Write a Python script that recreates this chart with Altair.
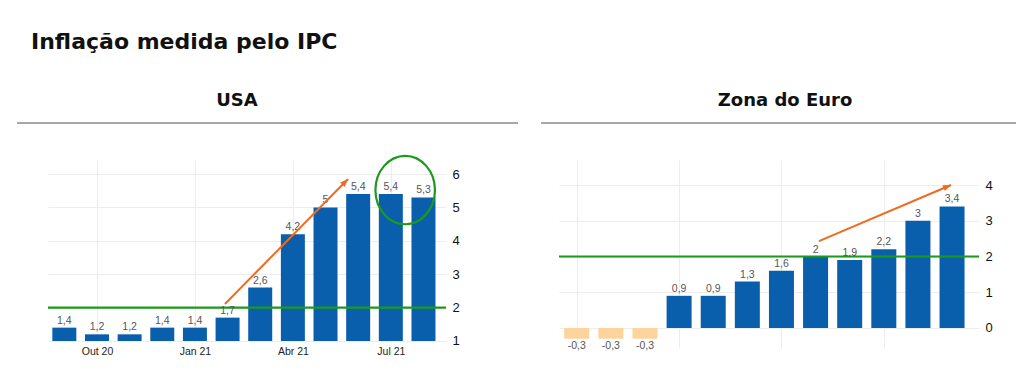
import altair as alt
import pandas as pd

TITLE = "Inflação medida pelo IPC"
USA_TITLE = "USA"
EUR_TITLE = "Zona do Euro"

USA_MONTHS = ["Set 20", "Out 20", "Nov 20", "Dez 20", "Jan 21", "Fev 21",
              "Mar 21", "Abr 21", "Mai 21", "Jun 21", "Jul 21", "Ago 21"]
USA_CPI = [1.4, 1.2, 1.2, 1.4, 1.4, 1.7, 2.6, 4.2, 5, 5.4, 5.4, 5.3]

EUR_MONTHS = ["Out 20", "Nov 20", "Dez 20", "Jan 21", "Fev 21", "Mar 21",
              "Abr 21", "Mai 21", "Jun 21", "Jul 21", "Ago 21", "Set 21"]
EUR_CPI = [-0.3, -0.3, -0.3, 0.9, 0.9, 1.3, 1.6, 2, 1.9, 2.2, 3, 3.4]

TARGET = 2
USA_TICKS = [2, 5, 8, 11]
EUR_TICKS = [1, 4, 7, 10]
USA_Y_TICKS = [1, 2, 3, 4, 5, 6]
EUR_Y_TICKS = [0, 1, 2, 3, 4]

# annotation arrows (month index, value)
USA_ARROW_I = [5.92, 9.69]
USA_ARROW_V = [2.11, 5.85]
EUR_ARROW_I = [8.10, 11.97]
EUR_ARROW_V = [2.43, 4.0]
USA_CIRCLE_I = [11.44]
USA_CIRCLE_V = [5.52]

BLUE = "#0a5fad"
PEACH = "#fdd49c"
GREEN = "#1c9a1c"
ORANGE = "#f06a20"
HEAD_FONT = "DejaVu Sans"
NUM_FONT = "Liberation Sans"

ARROW_HEAD = "M0,0L0.8,2L-0.8,2Z"
ELLIPSE = "M-0.87,0A0.87,1 0 1,1 0.87,0A0.87,1 0 1,1 -0.87,0Z"


def panel(months, values, ticks, yticks, ydom, xdom, width, height, bar_w,
          base, arrow_i, arrow_v, arrow_angle, head, head_x, rule_x,
          show_labels, circle=None, title_text=None):
    df = pd.DataFrame({"i": list(range(1, len(values) + 1)), "v": values, "m": months})
    arr = "[" + ",".join("'" + m + "'" for m in months) + "]"
    x_axis = alt.Axis(values=ticks, labelExpr=arr + "[datum.value-1]", grid=True,
                      gridColor="#ededed", domain=False, ticks=False,
                      labels=show_labels, labelFont=NUM_FONT, labelFontSize=10.5,
                      labelColor="#222", labelPadding=3, title=None)
    y_axis = alt.Axis(values=yticks, orient="right", grid=True, gridColor="#ededed",
                      domain=False, ticks=False, labelPadding=6, labelFont=NUM_FONT,
                      labelFontSize=13, labelColor="#111", format="d", title=None)
    xs = alt.Scale(domain=xdom, nice=False, zero=False, padding=0)
    ys = alt.Scale(domain=ydom, nice=False, zero=False, padding=0)
    X = alt.X("i:Q", scale=xs, axis=x_axis)
    Y = alt.Y("v:Q", scale=ys, axis=y_axis)

    base_chart = alt.Chart(df)
    bars = base_chart.mark_bar(width=bar_w).encode(
        x=X, y=Y, y2=alt.datum(base),
        color=alt.condition(alt.datum.v < 0, alt.value(PEACH), alt.value(BLUE)),
    )
    lbl = base_chart.transform_calculate(
        lbl="replace(toString(datum.v), '.', ',')")
    pos_txt = lbl.transform_filter(alt.datum.v >= 0).mark_text(
        dy=-4, baseline="alphabetic", font=NUM_FONT, fontSize=10.5, color="#555"
    ).encode(x=X, y=Y, text="lbl:N")
    neg_txt = lbl.transform_filter(alt.datum.v < 0).mark_text(
        dy=2, baseline="top", font=NUM_FONT, fontSize=10.5, color="#555"
    ).encode(x=X, y=Y, text="lbl:N")

    target = alt.Chart(pd.DataFrame({"t": [TARGET]})).mark_rule(
        color=GREEN, strokeWidth=2.2).encode(y=alt.Y("t:Q", scale=ys, axis=y_axis))

    adf = pd.DataFrame({"i": arrow_i, "v": arrow_v})
    arrow = alt.Chart(adf).mark_line(color=ORANGE, strokeWidth=2).encode(x=X, y=Y)
    tip = alt.Chart(adf.iloc[[-1]]).mark_point(
        shape=ARROW_HEAD, filled=True, size=64, angle=arrow_angle,
        color=ORANGE, opacity=1).encode(x=X, y=Y)

    tdf = pd.DataFrame({"t": [head]})
    head_txt = alt.Chart(tdf).mark_text(
        align="center", baseline="alphabetic", font=HEAD_FONT, fontSize=18,
        fontWeight="bold", color="#111").encode(
        x=alt.value(head_x), y=alt.value(-54), text="t:N")
    rule = alt.Chart(tdf).mark_rule(color="#8a8a8a", strokeWidth=1.4).encode(
        x=alt.value(rule_x[0]), x2=alt.value(rule_x[1]), y=alt.value(-37))

    layers = [bars, target, pos_txt, neg_txt, arrow, tip, head_txt, rule]
    if circle is not None:
        cdf = pd.DataFrame({"i": circle[0], "v": circle[1]})
        layers.append(alt.Chart(cdf).mark_point(
            shape=ELLIPSE, filled=False, size=4680, color=GREEN,
            strokeWidth=2.2, opacity=1).encode(x=X, y=Y))
    if title_text is not None:
        ttdf = pd.DataFrame({"t": [title_text]})
        layers.append(alt.Chart(ttdf).mark_text(
            align="left", baseline="alphabetic", font=HEAD_FONT, fontSize=22,
            fontWeight="bold", color="#111").encode(
            x=alt.value(-17), y=alt.value(-111), text="t:N"))
    return alt.layer(*layers).properties(width=width, height=height)


usa = panel(USA_MONTHS, USA_CPI, USA_TICKS, USA_Y_TICKS, [0.94, 6.42], [0.5, 12.69],
            398, 183, 24, 1, USA_ARROW_I, USA_ARROW_V, 44.5, USA_TITLE, 189,
            [-31, 470], True, circle=(USA_CIRCLE_I, USA_CIRCLE_V), title_text=TITLE)
eur = panel(EUR_MONTHS, EUR_CPI, EUR_TICKS, EUR_Y_TICKS, [-0.56, 4.70], [0.48, 12.79],
            420, 188, 25, 0, EUR_ARROW_I, EUR_ARROW_V, 67, EUR_TITLE, 226,
            [-18, 457], False)

chart = alt.hconcat(usa, eur, spacing=113, bounds="flush").properties(
    padding={"left": 8, "top": 23, "right": 5, "bottom": 5},
    background="white",
).configure_view(strokeWidth=0, stroke="transparent")

chart.save("out.html", embed_options={"renderer": "svg", "actions": False})
